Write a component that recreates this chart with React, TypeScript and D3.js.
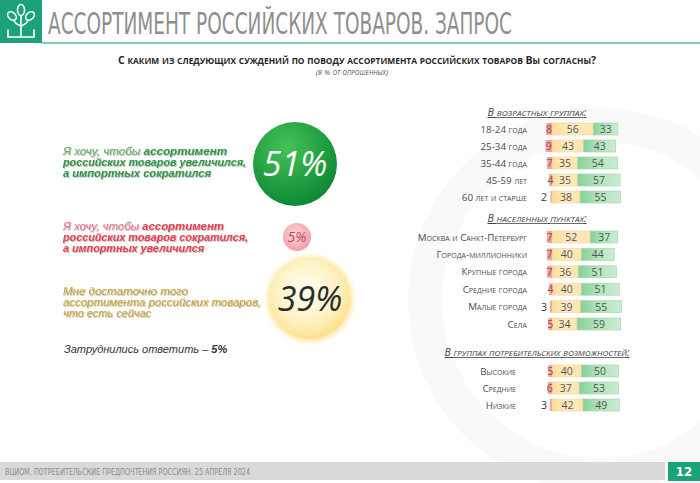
import React from "react";
import * as d3 from "d3";

// ---------- DATA ----------
const mainAnswers = [
  ["Я хочу, чтобы ", "ассортимент", "российских товаров увеличился,", "а импортных сократился"],
  ["Я хочу, чтобы ", "ассортимент", "российских товаров сократился,", "а импортных увеличился"],
  ["", "Мне достаточно того", "ассортимента российских товаров,", "что есть сейчас"],
];
const mainValues = [51, 5, 39];
const hardToAnswer = 5;

const ageCats = ["18-24 года", "25-34 года", "35-44 года", "45-59 лет", "60 лет и старше"];
const ageDecrease = [8, 9, 7, 4, 2];
const ageEnough = [56, 43, 35, 35, 38];
const ageIncrease = [33, 43, 54, 57, 55];

const placeCats = ["Москва и Санкт-Петербург", "Города-миллионники", "Крупные города", "Средние города", "Малые города", "Села"];
const placeDecrease = [7, 7, 7, 4, 3, 5];
const placeEnough = [52, 40, 36, 40, 39, 34];
const placeIncrease = [37, 44, 51, 51, 55, 59];

const consCats = ["Высокие", "Средние", "Низкие"];
const consDecrease = [5, 6, 3];
const consEnough = [40, 37, 42];
const consIncrease = [50, 53, 49];

const groupTitles = ["В возрастных группах:", "В населенных пунктах:", "В группах потребительских возможностей:"];

// ---------- LAYOUT ----------
const W = 700, H = 483;
const barX0 = 552;
const xBar = d3.scaleLinear().domain([0, 100]).range([0, 74]);
const barH = 12;

const groups = [
  { title: groupTitles[0], tw: 99, cats: ageCats, dec: ageDecrease, en: ageEnough, inc: ageIncrease, titleY: 113, y0: 129, y1: 197, labelX: 527 },
  { title: groupTitles[1], tw: 99, cats: placeCats, dec: placeDecrease, en: placeEnough, inc: placeIncrease, titleY: 219, y0: 237, y1: 324, labelX: 527 },
  { title: groupTitles[2], tw: 185, cats: consCats, dec: consDecrease, en: consEnough, inc: consIncrease, titleY: 353, y0: 371, y1: 405, labelX: 516 },
];

const rScale = d3.scaleLinear().domain([5, 39, 51]).range([14, 40, 42]);

const circleCfg = [
  { cx: 295, cy: 164, fill: "url(#gGreen)", txt: "#ffffff", fs: 34, light: "#5fb163", bold: "#2f9a45", ty: [151, 162, 173], tl: [164, 183, 148] },
  { cx: 297, cy: 237, fill: "url(#gPink)", txt: "#b24b58", fs: 14, light: "#ef7482", bold: "#e8404f", ty: [226, 237, 248], tl: [161, 185, 141] },
  { cx: 310, cy: 299, fill: "url(#gYellow)", txt: "#2b2b2b", fs: 34, light: "#c9a42a", bold: "#c9a42a", ty: [291, 302, 313], tl: [125, 198, 88] },
];

const font = "'Liberation Sans', Arial, sans-serif";
const labelFont = "'Open Sans', 'Liberation Sans', sans-serif";
const narrow = "'Liberation Sans Narrow', 'DejaVu Sans Condensed', sans-serif";

// small caps: lowercase letters rendered as smaller capitals
function smallCaps(s: string, ratio = 0.8) {
  const runs: { t: string; small: boolean }[] = [];
  for (const ch of s) {
    const small = ch !== ch.toUpperCase();
    const last = runs[runs.length - 1];
    if (last && last.small === small) last.t += small ? ch.toUpperCase() : ch;
    else runs.push({ t: small ? ch.toUpperCase() : ch, small });
  }
  return runs.map((r, i) => (
    <tspan key={i} fontSize={r.small ? `${ratio}em` : "1em"}>{r.t}</tspan>
  ));
}

function BarGroup({ g }: { g: any }) {
  const y = d3.scalePoint<string>().domain(g.cats).range([g.y0, g.y1]);
  return (
    <g>
      <text x={537} y={g.titleY + 3} textAnchor="middle" fontFamily={labelFont} fontSize={10} fontStyle="italic"
        fill="#404040" textDecoration="underline"
        textLength={g.tw} lengthAdjust="spacingAndGlyphs">{smallCaps(g.title, 0.78)}</text>
      {g.cats.map((c: string, i: number) => {
        const cy = y(c) as number;
        const top = cy - barH / 2;
        const wd = xBar(g.dec[i]);
        const we = xBar(g.en[i]);
        const wi = xBar(g.inc[i]);
        const decInside = g.dec[i] >= 4;
        return (
          <g key={c}>
            <text x={g.labelX} y={cy + 3.5} textAnchor="end" fontFamily={labelFont} fontSize={9.8}
              fill="#4a4a4a">{smallCaps(c, 0.72)}</text>
            <rect x={barX0 - wd} y={top} width={wd} height={barH} fill="url(#gRed)" />
            <rect x={barX0} y={top} width={we} height={barH} fill="url(#gYel)" stroke="#f3d495" strokeWidth={0.6} />
            <rect x={barX0 + we} y={top} width={wi} height={barH} fill="url(#gGrn)" stroke="#9fd3a9" strokeWidth={0.6} />
            <text x={decInside ? barX0 - wd / 2 : barX0 - 5} y={cy + 4} textAnchor={decInside ? "middle" : "end"}
              fontFamily={labelFont} fontSize={10.5} fill={decInside ? "#a0484a" : "#333"}>{g.dec[i]}</text>
            <text x={barX0 + we / 2} y={cy + 4} textAnchor="middle" fontFamily={labelFont} fontSize={10.5} fill="#555">{g.en[i]}</text>
            <text x={barX0 + we + wi / 2} y={cy + 4} textAnchor="middle" fontFamily={labelFont} fontSize={10.5} fill="#555">{g.inc[i]}</text>
          </g>
        );
      })}
    </g>
  );
}

export default function App() {
  return (
    <svg width={W} height={H} style={{ position: "fixed", left: 0, top: 0, background: "#fff" }}>
      <defs>
        <radialGradient id="gGreen" cx="40%" cy="30%" r="75%">
          <stop offset="0%" stopColor="#45c255" />
          <stop offset="100%" stopColor="#0a8535" />
        </radialGradient>
        <radialGradient id="gPink" cx="45%" cy="40%" r="65%">
          <stop offset="0%" stopColor="#fcd6d9" />
          <stop offset="100%" stopColor="#f29aa4" />
        </radialGradient>
        <radialGradient id="gYellow" cx="45%" cy="40%" r="60%">
          <stop offset="0%" stopColor="#fffef6" />
          <stop offset="70%" stopColor="#fef0bd" />
          <stop offset="100%" stopColor="#fde08a" />
        </radialGradient>
        <linearGradient id="gRed" x1="0" x2="1" y1="0" y2="0">
          <stop offset="0%" stopColor="#f2b3b3" />
          <stop offset="100%" stopColor="#e79595" />
        </linearGradient>
        <linearGradient id="gYel" x1="0" x2="1" y1="0" y2="0">
          <stop offset="0%" stopColor="#fddc9a" />
          <stop offset="50%" stopColor="#feeac2" />
          <stop offset="100%" stopColor="#fde4ae" />
        </linearGradient>
        <linearGradient id="gGrn" x1="0" x2="1" y1="0" y2="0">
          <stop offset="0%" stopColor="#86d198" />
          <stop offset="50%" stopColor="#b6e4bf" />
          <stop offset="100%" stopColor="#c9ecd0" />
        </linearGradient>
        <filter id="tShadow" x="-5%" y="-30%" width="110%" height="160%">
          <feDropShadow dx="0.8" dy="0.8" stdDeviation="0.7" floodColor="#777" floodOpacity="0.55" />
        </filter>
        <filter id="glow" x="-30%" y="-30%" width="160%" height="160%">
          <feGaussianBlur stdDeviation="2.5" />
        </filter>
      </defs>

      {/* watermark */}
      <circle cx={600} cy={300} r={175} fill="none" stroke="#f9f9f9" strokeWidth={34} />

      {/* header */}
      <rect x={0} y={0} width={42} height={43} fill="#1ba27a" />
      <g stroke="#fff" strokeWidth={1.6} fill="none" strokeLinecap="round">
        <ellipse cx={21} cy={10} rx={3.5} ry={5.5} />
        <ellipse cx={12} cy={16} rx={3.5} ry={5} transform="rotate(-45 12 16)" />
        <ellipse cx={30} cy={16} rx={3.5} ry={5} transform="rotate(45 30 16)" />
        <path d="M21 16 V36 M21 26 Q15 24 14 20 M21 26 Q27 24 28 20" />
        <path d="M8 30 V37 H34 V30" />
      </g>
      <line x1={42} x2={700} y1={43} y2={43} stroke="#7fcdb7" strokeWidth={2} />
      <text x={48} y={34} fontFamily={narrow} fontSize={30}
        fill="#8e8e8e" textLength={464} lengthAdjust="spacingAndGlyphs">АССОРТИМЕНТ РОССИЙСКИХ ТОВАРОВ. ЗАПРОС</text>

      {/* question */}
      <text x={357} y={64} textAnchor="middle" fontFamily={labelFont} fontWeight="bold" fontSize={10.5}
        fill="#262626" textLength={478} lengthAdjust="spacingAndGlyphs">
        {smallCaps("С каким из следующих суждений по поводу ассортимента российских товаров Вы согласны?", 0.8)}
      </text>
      <text x={352} y={75} textAnchor="middle" fontFamily={labelFont} fontStyle="italic" fontSize={8}
        fill="#555">{smallCaps("(в % от опрошенных)", 0.8)}</text>

      {/* left: main answers */}
      {mainValues.map((v, i) => {
        const c = circleCfg[i];
        const a = mainAnswers[i];
        const r = rScale(v);
        return (
          <g key={i}>
            {i === 2 && <circle cx={c.cx} cy={c.cy} r={r + 3} fill="#fde9a6" filter="url(#glow)" />}
            <circle cx={c.cx} cy={c.cy} r={r} fill={c.fill} />
            <text x={c.cx} y={c.cy + c.fs * 0.36} textAnchor="middle" fontFamily="'Open Sans', sans-serif"
              fontStyle="italic" fontSize={c.fs} fill={c.txt}>{v}%</text>
            <g filter="url(#tShadow)" fontFamily={font} fontStyle="italic" fontSize={11.5}>
              <text x={63} y={c.ty[0] + 4} textLength={c.tl[0]} lengthAdjust="spacingAndGlyphs">
                {a[0] && <tspan fill={c.light}>{a[0]}</tspan>}
                <tspan fill={c.bold} fontWeight={i === 2 ? "normal" : "bold"}>{a[1]}</tspan>
              </text>
              <text x={63} y={c.ty[1] + 4} textLength={c.tl[1]} lengthAdjust="spacingAndGlyphs"
                fill={c.bold} fontWeight={i === 2 ? "normal" : "bold"}>{a[2]}</text>
              <text x={63} y={c.ty[2] + 4} textLength={c.tl[2]} lengthAdjust="spacingAndGlyphs"
                fill={c.bold} fontWeight={i === 2 ? "normal" : "bold"}>{a[3]}</text>
            </g>
          </g>
        );
      })}
      <text x={64} y={353} fontFamily={font} fontStyle="italic" fontSize={11} fill="#333">
        Затруднились ответить – <tspan fontWeight="bold">{hardToAnswer}%</tspan>
      </text>

      {/* right: groups */}
      {groups.map((g, i) => <BarGroup key={i} g={g} />)}

      {/* footer */}
      <rect x={0} y={462} width={665} height={18} fill="#d9d9d9" />
      <text x={5} y={475} fontFamily={narrow} fontSize={9}
        fill="#8a8a8a" textLength={245} lengthAdjust="spacingAndGlyphs">ВЦИОМ. ПОТРЕБИТЕЛЬСКИЕ ПРЕДПОЧТЕНИЯ РОССИЯН. 25 АПРЕЛЯ 2024</text>
      <rect x={668} y={462} width={32} height={19} fill="#1ba27a" />
      <text x={684} y={476} textAnchor="middle" fontFamily={narrow}
        fontWeight="bold" fontSize={13} fill="#fff">12</text>
    </svg>
  );
}
